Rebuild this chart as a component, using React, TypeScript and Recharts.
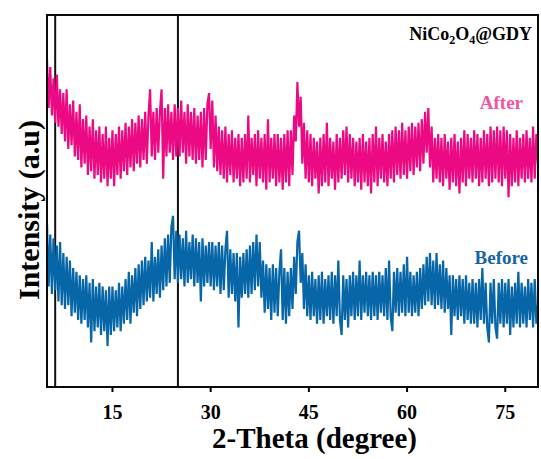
import React from "react";
import { LineChart, Line, XAxis, YAxis, CartesianGrid } from "recharts";

const THETA_START = 5;
const THETA_STEP = 0.25;

// "After" pattern intensity (arbitrary units), one value every 0.25 degree from 5 to 80
const AFTER = [
  88, 75, 86, 73, 83, 71, 84, 70, 80, 68, 79, 66, 80, 64, 76, 65, 77, 62, 74, 61,
  76, 59, 72, 60, 73, 57, 70, 58, 72, 56, 69, 57, 70, 55, 68, 56, 70, 54, 67, 56,
  69, 54, 68, 57, 70, 56, 69, 58, 71, 57, 70, 59, 72, 58, 71, 60, 73, 59, 72, 61,
  74, 60, 73, 80, 62, 74, 61, 75, 63, 74, 80, 56, 75, 62, 76, 63, 74, 61, 76, 62,
  75, 62, 77, 63, 74, 60, 76, 62, 74, 61, 75, 60, 73, 61, 74, 59, 75, 61, 76, 79,
  64, 77, 59, 73, 58, 70, 57, 69, 56, 70, 55, 68, 57, 69, 55, 67, 56, 68, 54, 67,
  55, 68, 56, 73, 55, 67, 57, 68, 54, 69, 56, 67, 55, 68, 53, 72, 55, 67, 56, 68,
  54, 68, 55, 67, 53, 68, 55, 69, 54, 69, 57, 73, 66, 82, 70, 78, 60, 71, 56, 69,
  55, 68, 54, 67, 56, 66, 52, 67, 54, 68, 55, 71, 54, 67, 56, 66, 53, 68, 55, 67,
  56, 69, 57, 70, 55, 68, 56, 67, 54, 66, 55, 67, 53, 68, 55, 66, 54, 67, 52, 68,
  55, 70, 54, 67, 56, 68, 55, 66, 54, 68, 56, 69, 55, 70, 57, 69, 56, 71, 57, 69,
  56, 70, 58, 71, 57, 70, 59, 71, 58, 72, 60, 74, 63, 75, 59, 70, 55, 67, 56, 68,
  55, 67, 54, 68, 56, 66, 53, 67, 55, 68, 54, 66, 52, 67, 55, 69, 54, 68, 56, 67,
  55, 69, 56, 68, 54, 67, 55, 69, 56, 68, 54, 70, 55, 69, 56, 70, 55, 69, 54, 70,
  56, 69, 51, 68, 54, 67, 55, 69, 54, 67, 56, 68, 55, 69, 56, 67, 55, 70, 56, 68,
  60,
];

// "Before" pattern intensity (arbitrary units), same angle grid
const BEFORE = [
  44, 27, 41, 25, 40, 26, 38, 23, 39, 22, 36, 21, 35, 22, 34, 19, 32, 20, 31, 18,
  30, 17, 29, 18, 30, 16, 28, 12, 29, 15, 27, 16, 28, 14, 27, 15, 26, 11, 27, 14,
  27, 15, 26, 16, 28, 15, 27, 17, 29, 18, 31, 17, 30, 20, 32, 19, 33, 21, 34, 22,
  35, 23, 34, 24, 39, 23, 35, 25, 37, 24, 38, 26, 40, 27, 41, 28, 43, 46, 29, 42,
  28, 41, 29, 40, 27, 42, 28, 39, 29, 41, 27, 40, 28, 39, 23, 40, 27, 38, 28, 39,
  27, 39, 26, 38, 27, 39, 25, 38, 26, 37, 42, 24, 37, 25, 36, 23, 36, 16, 35, 24,
  36, 25, 37, 24, 38, 25, 39, 26, 41, 27, 39, 24, 34, 20, 33, 21, 32, 18, 33, 20,
  32, 19, 31, 37, 18, 32, 17, 31, 19, 32, 21, 35, 25, 39, 42, 28, 36, 21, 33, 19,
  30, 18, 31, 19, 29, 17, 30, 18, 31, 17, 29, 19, 30, 18, 31, 17, 30, 19, 34, 18,
  14, 30, 18, 29, 16, 30, 19, 31, 18, 30, 19, 34, 18, 30, 20, 31, 19, 30, 18, 31,
  19, 30, 18, 31, 20, 30, 19, 32, 18, 34, 19, 15, 31, 20, 32, 19, 31, 20, 33, 19,
  35, 20, 31, 19, 30, 20, 31, 19, 32, 21, 33, 22, 35, 23, 36, 22, 34, 21, 36, 22,
  33, 21, 34, 20, 32, 21, 30, 14, 30, 19, 29, 18, 30, 19, 29, 17, 30, 18, 28, 17,
  29, 17, 28, 16, 29, 18, 32, 17, 28, 16, 12, 28, 17, 29, 16, 13, 28, 17, 29, 16,
  28, 17, 29, 14, 27, 16, 28, 17, 31, 16, 28, 17, 27, 16, 29, 18, 28, 16, 29, 17,
  22,
];

const X_TICKS = [15, 30, 45, 60, 75];
const X_DOMAIN = [5, 80];
const Y_DOMAIN = [0, 100];
const FRAME_X = [5, 80];
const FRAME_Y = [0, 100];

const TITLE_MAIN = "NiCo";
const SERIES_NAMES = ["After", "Before"];
const X_LABEL = "2-Theta (degree)";
const Y_LABEL = "Intensity (a.u)";

const PINK = "#EC0A84";
const BLUE = "#0766A8";
const FONT = "'Liberation Serif', 'Times New Roman', Times, serif";

const data = AFTER.map((v, i) => ({
  theta: THETA_START + i * THETA_STEP,
  after: v,
  before: BEFORE[i],
}));

const W = 541;
const H = 459;
const MARGIN = { top: 15, right: 3, left: 0, bottom: 0 };
const X_AXIS_H = 72;
const Y_AXIS_W = 47;

export default function App() {
  return (
    <div style={{ position: "absolute", left: 0, top: 0, width: W, height: H, background: "#fff" }}>
      <LineChart width={W} height={H} data={data} margin={MARGIN}>
        <XAxis xAxisId="frame" type="number" domain={X_DOMAIN} ticks={FRAME_X} hide />
        <YAxis yAxisId="frame" type="number" domain={Y_DOMAIN} ticks={FRAME_Y} hide />
        <CartesianGrid xAxisId="frame" yAxisId="frame" stroke="#111" strokeWidth={2} />
        <XAxis
          dataKey="theta"
          type="number"
          domain={X_DOMAIN}
          ticks={X_TICKS}
          allowDataOverflow
          height={X_AXIS_H}
          tickSize={5}
          tickMargin={13}
          axisLine={{ stroke: "#000", strokeWidth: 2 }}
          tickLine={{ stroke: "#000", strokeWidth: 2 }}
          tick={{ fill: "#000", fontSize: 20, fontWeight: "bold", fontFamily: FONT }}
        />
        <YAxis
          type="number"
          domain={Y_DOMAIN}
          width={Y_AXIS_W}
          tick={false}
          tickLine={false}
          axisLine={{ stroke: "#000", strokeWidth: 2 }}
        />
        <Line
          type="linear"
          dataKey="after"
          stroke={PINK}
          strokeWidth={2.2}
          dot={false}
          isAnimationActive={false}
        />
        <Line
          type="linear"
          dataKey="before"
          stroke={BLUE}
          strokeWidth={2.2}
          dot={false}
          isAnimationActive={false}
        />
      </LineChart>
      <svg
        width={W}
        height={H}
        style={{ position: "absolute", left: 0, top: 0, pointerEvents: "none" }}
      >
        <rect
          x={MARGIN.left + Y_AXIS_W}
          y={MARGIN.top}
          width={W - MARGIN.left - MARGIN.right - Y_AXIS_W}
          height={H - MARGIN.top - MARGIN.bottom - X_AXIS_H}
          fill="none"
          stroke="#0a0a0a"
          strokeWidth={2}
        />
        <text x={532} y={40} textAnchor="end" fontFamily={FONT} fontWeight="bold" fontSize={18} fill="#000">
          {TITLE_MAIN}
          <tspan fontSize={12} dy={4}>2</tspan>
          <tspan fontSize={18} dy={-4}>O</tspan>
          <tspan fontSize={12} dy={4}>4</tspan>
          <tspan fontSize={18} dy={-4}>@GDY</tspan>
        </text>
        <text x={523} y={109} textAnchor="end" fontFamily={FONT} fontWeight="bold" fontSize={19} fill="#F2559F">
          {SERIES_NAMES[0]}
        </text>
        <text x={528} y={264} textAnchor="end" fontFamily={FONT} fontWeight="bold" fontSize={19} fill="#1565A5">
          {SERIES_NAMES[1]}
        </text>
        <text x={314.5} y={448} textAnchor="middle" fontFamily={FONT} fontWeight="bold" fontSize={29} fill="#000">
          {X_LABEL}
        </text>
        <text
          x={0}
          y={0}
          transform="translate(39,210) rotate(-90)"
          textAnchor="middle"
          fontFamily={FONT}
          fontWeight="bold"
          fontSize={30}
          fill="#000"
        >
          {Y_LABEL}
        </text>
      </svg>
    </div>
  );
}
